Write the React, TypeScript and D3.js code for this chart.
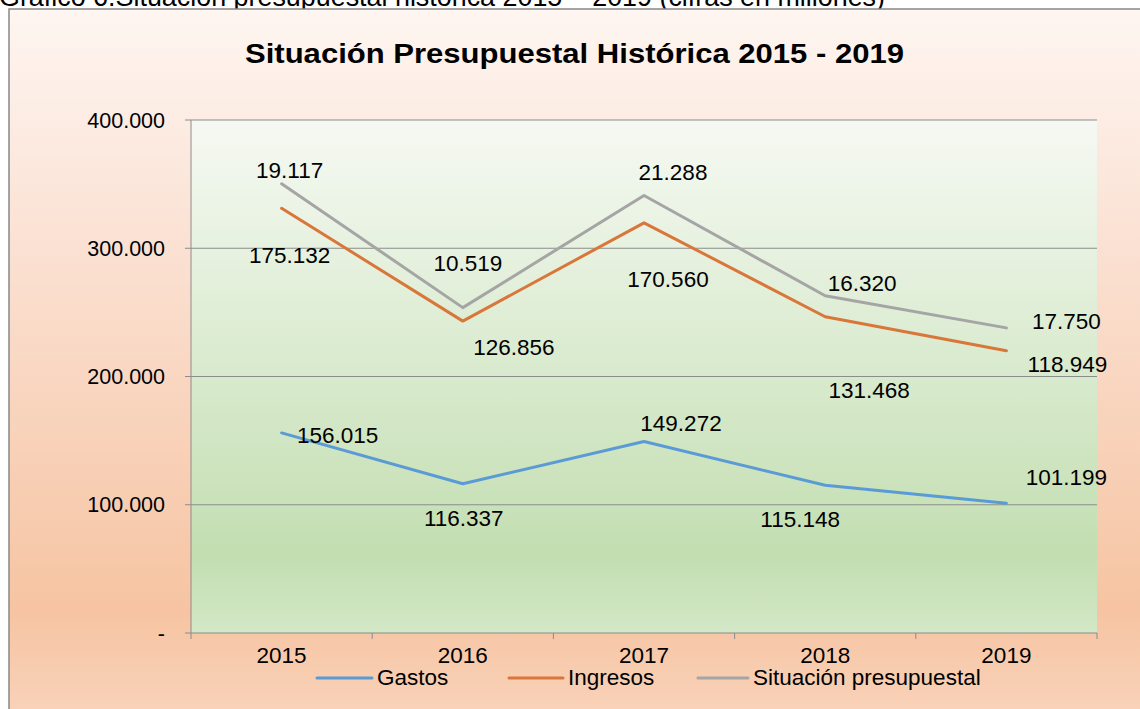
import React from 'react';
import { scaleLinear, scaleBand, line } from 'd3';

const years = ['2015', '2016', '2017', '2018', '2019'];
const gastos = [156.015, 116.337, 149.272, 115.148, 101.199];
const ingresos = [175.132, 126.856, 170.56, 131.468, 118.949];
const situacion = [19.117, 10.519, 21.288, 16.32, 17.75];
const yTicks = [0, 100, 200, 300, 400];
const seriesNames = ['Gastos', 'Ingresos', 'Situación presupuestal'];
const seriesColors = ['#5B9BD5', '#D9773A', '#A5A5A5'];

// hand placed label offsets (dx, dy) from each point, like the original
const labelOffsets = [
  [[56, 2], [1, 34], [37, -18], [-25, 34], [60, -26]],
  [[8, 47], [51, 26], [24, 56], [44, 73], [61, 13]],
  [[8, -14], [5, -44], [29, -23], [37, -13], [60, -7]],
];

const W = 1140;
const H = 709;
const plot = { left: 191, right: 1097, top: 120, bottom: 633 };

const fmtVal = (v: number) => v.toFixed(3);
const fmtTick = (v: number) => (v === 0 ? '-' : `${v}.000`);

const App = () => {
  const x = scaleBand<string>().domain(years).range([plot.left, plot.right]);
  const y = scaleLinear().domain([0, 400]).range([plot.bottom, plot.top]);

  // stacked lines
  const raw = [gastos, ingresos, situacion];
  const stacked = raw.map((s, si) =>
    s.map((_, i) => raw.slice(0, si + 1).reduce((a, r) => a + r[i], 0))
  );
  const cx = (yr: string) => (x(yr) as number) + x.bandwidth() / 2;
  const lineGen = line<number>()
    .x((_, i) => cx(years[i]))
    .y((d) => y(d));

  const font = 'Arial, "Liberation Sans", sans-serif';
  const fs = 22.5;

  return (
    <svg width={W} height={H} style={{ position: 'absolute', left: 0, top: 0 }} fontFamily={font}>
      <defs>
        <linearGradient id="outerBg" x1="0" y1="0" x2="0" y2="1">
          <stop offset="0" stopColor="#FEF6F1" />
          <stop offset="0.3" stopColor="#FBE3D6" />
          <stop offset="0.85" stopColor="#F6C4A2" />
          <stop offset="1" stopColor="#F9D3BA" />
        </linearGradient>
        <linearGradient id="plotBg" x1="0" y1="0" x2="0" y2="1">
          <stop offset="0" stopColor="#F6F9F3" />
          <stop offset="0.5" stopColor="#D8EACD" />
          <stop offset="0.85" stopColor="#C3DEB1" />
          <stop offset="1" stopColor="#D3E8C7" />
        </linearGradient>
      </defs>
      <rect x={0} y={0} width={W} height={H} fill="#fff" />
      <text x={-1} y={6} fontSize={27} fill="#000" textLength={886} lengthAdjust="spacingAndGlyphs">
        Gráfico 6.Situación presupuestal histórica 2015 – 2019 (cifras en millones)
      </text>
      <rect x={9} y={9} width={W} height={H} fill="url(#outerBg)" stroke="#888" strokeWidth={1.5} />
      <text
        x={245}
        y={63}
        fontSize={27}
        fontWeight="bold"
        fill="#000"
        textLength={659}
        lengthAdjust="spacingAndGlyphs"
      >
        Situación Presupuestal Histórica 2015 - 2019
      </text>

      <rect
        x={plot.left}
        y={plot.top}
        width={plot.right - plot.left}
        height={plot.bottom - plot.top}
        fill="url(#plotBg)"
      />
      {yTicks.map((t) => (
        <g key={t}>
          {t > 0 && (
            <line x1={plot.left} x2={plot.right} y1={y(t)} y2={y(t)} stroke="#8C8C8C" strokeWidth={1} />
          )}
          <line x1={plot.left - 6} x2={plot.left} y1={y(t)} y2={y(t)} stroke="#8C8C8C" />
          <text x={165} y={y(t)} dy="0.35em" textAnchor="end" fontSize={21.5} fill="#000">
            {fmtTick(t)}
          </text>
        </g>
      ))}
      <line x1={plot.left} x2={plot.left} y1={plot.top} y2={plot.bottom} stroke="#8C8C8C" />
      <line x1={plot.left} x2={plot.right} y1={plot.bottom} y2={plot.bottom} stroke="#8C8C8C" />
      {years.map((yr) => (
        <g key={yr}>
          <line
            x1={x(yr) as number}
            x2={x(yr) as number}
            y1={plot.bottom}
            y2={plot.bottom + 6}
            stroke="#8C8C8C"
          />
          <text x={cx(yr)} y={663} textAnchor="middle" fontSize={fs} fill="#000">
            {yr}
          </text>
        </g>
      ))}
      <line x1={plot.right} x2={plot.right} y1={plot.bottom} y2={plot.bottom + 6} stroke="#8C8C8C" />

      {stacked.map((s, si) => (
        <path
          key={si}
          d={lineGen(s) as string}
          fill="none"
          stroke={seriesColors[si]}
          strokeWidth={3}
          strokeLinecap="round"
          strokeLinejoin="round"
        />
      ))}

      {raw.map((s, si) =>
        s.map((v, i) => (
          <text
            key={`${si}-${i}`}
            x={cx(years[i]) + labelOffsets[si][i][0]}
            y={y(stacked[si][i]) + labelOffsets[si][i][1]}
            dy="0.35em"
            textAnchor="middle"
            fontSize={fs}
            fill="#000"
          >
            {fmtVal(v)}
          </text>
        ))
      )}

      {[
        { x1: 317, x2: 372 },
        { x1: 509, x2: 563 },
        { x1: 698, x2: 748 },
      ].map((p, i) => (
        <g key={i}>
          <line x1={p.x1} x2={p.x2} y1={678} y2={678} stroke={seriesColors[i]} strokeWidth={3} strokeLinecap="round" />
          <text x={p.x2 + 5} y={685} fontSize={fs} fill="#000">
            {seriesNames[i]}
          </text>
        </g>
      ))}
    </svg>
  );
};

export default App;
